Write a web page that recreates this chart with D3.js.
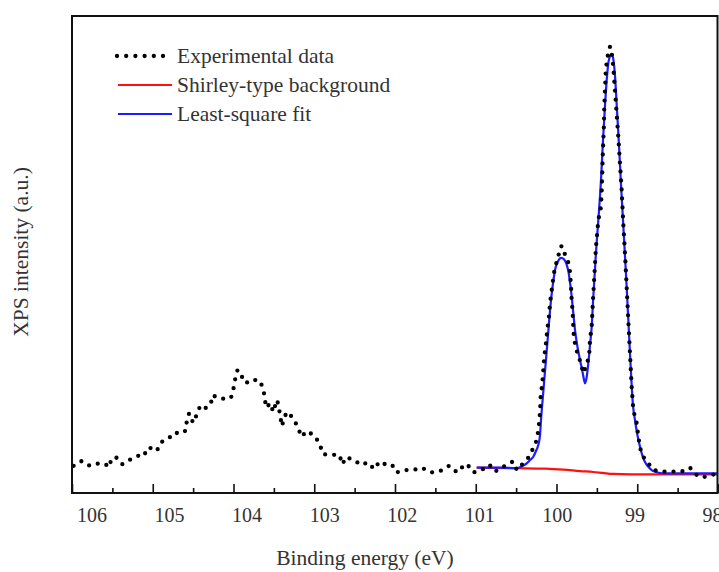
<!DOCTYPE html>
<html>
<head>
<meta charset="utf-8">
<script src="https://cdn.jsdelivr.net/npm/d3@7.9.0/dist/d3.min.js"></script>
<style>
  body { margin: 0; background: #fff; }
  svg { display: block; }
</style>
</head>
<body>
<svg id="chart" width="719" height="572"></svg>
<script>
// Experimental data (binding energy in eV, intensity in a.u.)
const expEnergy = [
  105.98, 105.88, 105.78, 105.67, 105.59, 105.54, 105.51, 105.45, 105.38, 105.27,
  105.18, 105.12, 105.05, 104.95, 104.90, 104.80, 104.73, 104.66, 104.59, 104.58,
  104.55, 104.50, 104.45, 104.41, 104.34, 104.28, 104.26, 104.21, 104.14, 104.07,
  104.03, 104.00, 103.98, 103.95, 103.92, 103.85, 103.77, 103.67, 103.63, 103.61,
  103.60, 103.54, 103.51, 103.46, 103.44, 103.42, 103.40, 103.37, 103.33, 103.26,
  103.20, 103.16, 103.09, 102.99, 102.93, 102.89, 102.78, 102.69, 102.65, 102.61,
  102.50, 102.43, 102.33, 102.26, 102.19, 102.12, 102.04, 101.98, 101.89, 101.78,
  101.67, 101.55, 101.44, 101.33, 101.23, 101.15, 101.11, 101.03, 100.93, 100.83,
  100.76, 100.66, 100.54, 100.49, 100.349, 100.287, 100.245, 100.225, 100.210, 100.202,
  100.196, 100.176, 100.163, 100.151, 100.130, 100.114, 100.093, 100.080, 100.059, 100.040,
  100.019, 99.978, 99.965, 99.936, 99.895, 99.854, 99.833, 99.820, 99.812, 99.799,
  99.792, 99.783, 99.759, 99.718, 99.688, 99.668, 99.619, 99.594, 99.585, 99.564,
  99.548, 99.529, 99.511, 99.482, 99.449, 99.440, 99.433, 99.428, 99.420, 99.412,
  99.408, 99.399, 99.391, 99.378, 99.359, 99.337, 99.316, 99.297, 99.276, 99.255,
  99.235, 99.214, 99.193, 99.173, 99.152, 99.131, 99.111, 99.090, 99.069, 99.049,
  99.007, 98.987, 98.966, 98.945, 98.892, 98.801, 98.677, 98.573, 98.450, 98.347,
  98.244, 98.140, 98.016
];
const expIntensity = [
  5.7, 6.7, 5.7, 6.2, 6.1, 5.4, 7.3, 7.4, 6.0, 7.1,
  7.8, 7.6, 9.6, 8.8, 10.6, 11.5, 12.7, 12.4, 13.1, 14.9,
  16.7, 14.7, 16.6, 18.4, 17.8, 18.7, 20.5, 20.1, 19.7, 20.1,
  20.0, 21.9, 23.8, 25.8, 25.1, 23.0, 23.8, 23.5, 21.6, 19.8,
  17.9, 18.8, 17.0, 19.5, 18.1, 16.0, 14.0, 16.0, 17.0, 15.6,
  13.7, 11.8, 13.0, 11.9, 10.1, 8.1, 8.0, 8.0, 6.0, 7.5,
  6.9, 5.9, 6.4, 5.0, 6.6, 6.0, 6.0, 4.3, 4.8, 4.8,
  5.3, 4.3, 4.6, 5.7, 4.3, 5.7, 6.1, 4.3, 4.8, 5.9,
  4.5, 5.5, 6.6, 4.8, 7.4, 9.4, 11.1, 13.2, 15.5, 17.5,
  20.2, 23.0, 25.8, 28.6, 31.4, 34.2, 37.0, 39.8, 42.6, 45.0,
  47.4, 49.3, 51.1, 51.8, 50.0, 48.3, 46.4, 43.2, 40.5, 37.7,
  34.9, 32.4, 30.3, 28.2, 26.5, 25.1, 27.2, 29.3, 32.1, 34.9,
  40.5, 46.1, 51.6, 57.2, 60.0, 63.5, 67.0, 70.5, 74.0, 77.5,
  81.0, 84.5, 88.0, 90.4, 92.2, 93.6, 92.2, 89.4, 84.5, 79.6,
  74.7, 69.1, 63.5, 56.5, 50.3, 43.2, 36.3, 29.3, 22.3, 17.4,
  14.6, 11.8, 9.7, 8.0, 6.9, 4.8, 4.5, 4.5, 4.5, 5.3,
  3.4, 3.4, 4.1
];

// Least-square fit
const fitEnergy = [
  100.988, 100.700, 100.493, 100.427, 100.369, 100.328, 100.287, 100.254, 100.225, 100.204,
  100.192, 100.167, 100.136, 100.105, 100.074, 100.043, 100.012, 99.981, 99.944, 99.907,
  99.876, 99.851, 99.833, 99.812, 99.792, 99.771, 99.740, 99.709, 99.678, 99.659,
  99.647, 99.628, 99.606, 99.585, 99.564, 99.548, 99.511, 99.482, 99.449, 99.424,
  99.399, 99.378, 99.356, 99.331, 99.315, 99.297, 99.276, 99.251, 99.226, 99.201,
  99.173, 99.131, 99.090, 99.053, 99.028, 99.003, 98.966, 98.935, 98.904, 98.863,
  98.821, 98.768, 98.677, 98.000
];
const fitIntensity = [
  5.3, 5.3, 5.2, 5.6, 6.2, 6.9, 7.6, 8.8, 10.1, 12.2,
  15.3, 20.5, 26.8, 33.1, 39.4, 44.0, 47.2, 48.6, 49.3, 49.0,
  48.0, 46.3, 44.2, 41.2, 37.7, 34.2, 30.6, 27.9, 25.4, 23.7,
  23.0, 24.1, 27.2, 31.0, 34.9, 40.0, 50.5, 57.2, 65.6, 74.0,
  81.3, 86.6, 90.4, 91.8, 92.0, 91.0, 87.6, 80.3, 72.9, 64.6,
  56.2, 43.2, 29.3, 18.4, 15.3, 12.6, 9.7, 7.8, 6.5, 5.5,
  4.8, 4.4, 4.1, 4.1
];

// Shirley-type background
const bgEnergy = [100.988, 100.493, 100.142, 99.916, 99.709, 99.544, 99.424, 99.297, 99.090, 98.000];
const bgIntensity = [5.3, 5.2, 5.1, 4.9, 4.6, 4.4, 4.2, 4.0, 3.9, 3.9];

const majorTicks = [106, 105, 104, 103, 102, 101, 100, 99, 98];
const minorTicks = [105.5, 104.5, 103.5, 102.5, 101.5, 100.5, 99.5, 98.5];
const legendLabels = ["Experimental data", "Shirley-type background", "Least-square fit"];

const serif = "Liberation Serif";
const textColor = "#333";

const svg = d3.select("#chart");
const plotLeft = 72, plotRight = 718, plotTop = 16, plotBottom = 493;

const x = d3.scaleLinear().domain([106, 98]).range([plotLeft, plotRight]);
// tick labels sit on a slightly compressed scale in the original figure
const xLabel = d3.scaleLinear().domain([106, 98]).range([91.4, 712]);
const y = d3.scaleLinear().domain([0, 100]).range([plotBottom, plotTop]);

svg.append("defs").append("clipPath").attr("id", "plot-clip")
  .append("rect")
  .attr("x", plotLeft).attr("y", plotTop)
  .attr("width", plotRight - plotLeft).attr("height", plotBottom - plotTop);

const plot = svg.append("g").attr("clip-path", "url(#plot-clip)");

const curveLine = d3.line()
  .x((d) => x(d[0]))
  .y((d) => y(d[1]))
  .curve(d3.curveMonotoneX);

const straightLine = d3.line()
  .x((d) => x(d[0]))
  .y((d) => y(d[1]));

// background
plot.append("path")
  .datum(d3.zip(bgEnergy, bgIntensity))
  .attr("d", curveLine)
  .attr("fill", "none")
  .attr("stroke", "#ff1010")
  .attr("stroke-width", 2.2);

// fit
plot.append("path")
  .datum(d3.zip(fitEnergy, fitIntensity))
  .attr("d", curveLine)
  .attr("fill", "none")
  .attr("stroke", "#1c1cff")
  .attr("stroke-width", 2.2)
  .attr("stroke-linejoin", "round");

// experimental dotted line
plot.append("path")
  .datum(d3.zip(expEnergy, expIntensity))
  .attr("d", straightLine)
  .attr("fill", "none")
  .attr("stroke", "#000")
  .attr("stroke-width", 4.3)
  .attr("stroke-linecap", "round")
  .attr("stroke-dasharray", "0 9");

// frame
svg.append("rect")
  .attr("x", plotLeft).attr("y", plotTop)
  .attr("width", plotRight - plotLeft - 0.5).attr("height", plotBottom - plotTop)
  .attr("fill", "none")
  .attr("stroke", "#111")
  .attr("stroke-width", 2);

// inward ticks on the bottom axis
const majorAxis = d3.axisBottom(x).tickValues(majorTicks).tickSize(-9).tickFormat("");
const minorAxis = d3.axisBottom(x).tickValues(minorTicks).tickSize(-5).tickFormat("");

[majorAxis, minorAxis].forEach((ax) => {
  const g = svg.append("g").attr("transform", `translate(0,${plotBottom})`).call(ax);
  g.select(".domain").remove();
  g.selectAll("line").attr("stroke", "#111").attr("stroke-width", 1.6);
});

const labelAxis = svg.append("g")
  .attr("transform", `translate(0,${plotBottom})`)
  .call(d3.axisBottom(xLabel).tickValues(majorTicks).tickSize(0).tickPadding(15).tickFormat(d3.format("d")));
labelAxis.attr("font-family", serif).attr("font-size", 20);
labelAxis.select(".domain").remove();
labelAxis.selectAll("text").attr("fill", textColor);

// axis titles
svg.append("text")
  .attr("x", 365).attr("y", 565)
  .attr("text-anchor", "middle")
  .attr("font-family", serif)
  .attr("font-size", 21.5)
  .attr("fill", textColor)
  .text("Binding energy (eV)");

svg.append("text")
  .attr("transform", "translate(28,252) rotate(-90)")
  .attr("text-anchor", "middle")
  .attr("font-family", serif)
  .attr("font-size", 21.5)
  .attr("fill", textColor)
  .text("XPS intensity (a.u.)");

// legend
const legend = svg.append("g");
const legendY = [56, 85, 114];

legend.append("line")
  .attr("x1", 117).attr("x2", 163)
  .attr("y1", legendY[0]).attr("y2", legendY[0])
  .attr("stroke", "#000").attr("stroke-width", 4.3)
  .attr("stroke-linecap", "round").attr("stroke-dasharray", "0 9.2");

legend.append("line")
  .attr("x1", 118).attr("x2", 172)
  .attr("y1", legendY[1]).attr("y2", legendY[1])
  .attr("stroke", "#ff1010").attr("stroke-width", 2.2);

legend.append("line")
  .attr("x1", 118).attr("x2", 172)
  .attr("y1", legendY[2]).attr("y2", legendY[2])
  .attr("stroke", "#1c1cff").attr("stroke-width", 2.2);

legend.selectAll("text.leg")
  .data(legendLabels)
  .enter()
  .append("text")
  .attr("class", "leg")
  .attr("x", 177)
  .attr("y", (d, i) => legendY[i] + 7)
  .attr("font-family", serif)
  .attr("font-size", 21.5)
  .attr("fill", textColor)
  .text((d) => d);
</script>
</body>
</html>
